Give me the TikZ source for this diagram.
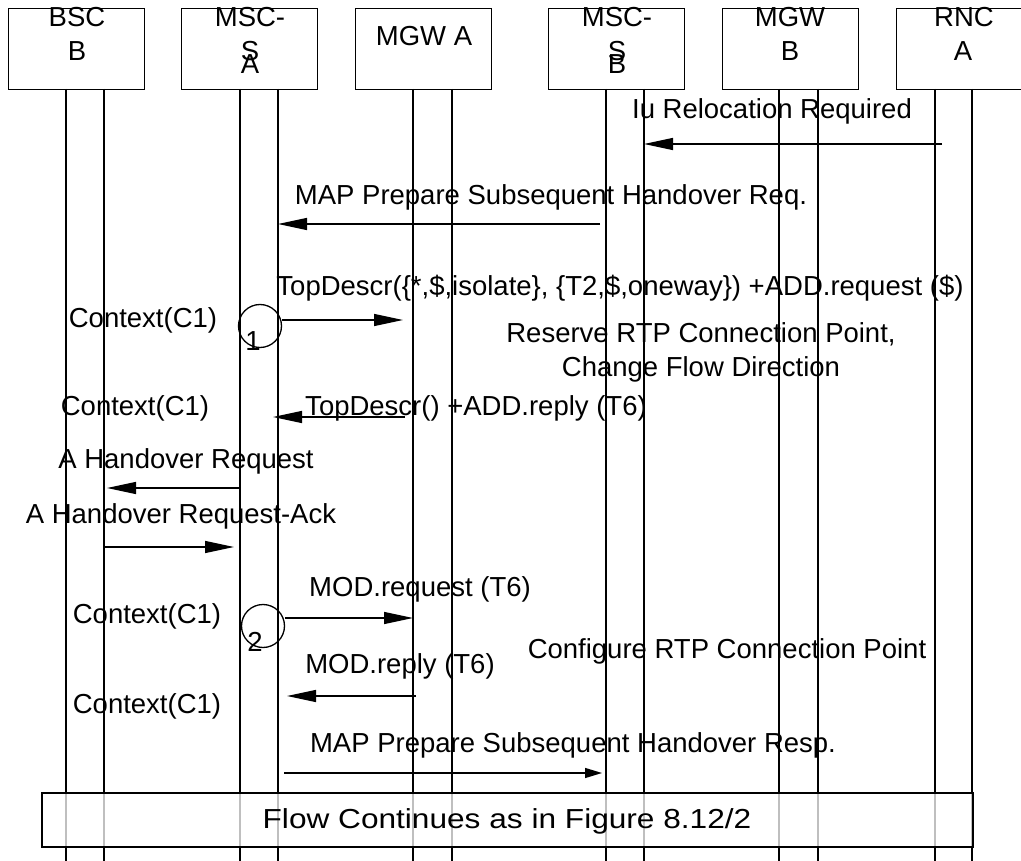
\documentclass[tikz,border=0pt]{standalone}
\usepackage{graphicx}
\usepackage{fontspec}
\setmainfont{Liberation Sans}
\usetikzlibrary{arrows.meta}

\begin{document}
\begin{tikzpicture}[x=1pt, y=-1pt, line width=1.3pt,
  every node/.style={font=\fontsize{27.5}{31}\selectfont, inner sep=0pt},
  entity/.style={draw, minimum width=136pt, minimum height=81pt, anchor=north west},
  lbl/.style={anchor=base},
  ctx/.style={draw, circle, minimum size=43pt},
  msg/.style={-{Triangle[length=29pt,width=12pt]}},
  msgsmall/.style={-{Triangle[length=17pt,width=10pt]}}]
  \clip (0,0) rectangle (1021,861);
  % Entitetar
  \node[entity] (bscB) at (8,8) {};
  \node[entity] (mscA) at (181,8) {};
  \node[entity] (mgwA) at (355,8) {};
  \node[entity] (mscB) at (548,8) {};
  \node[entity] (mgwB) at (722,8) {};
  \node[entity] (rncA) at (896,8) {};
  \node[lbl] (bscBt) at (77,27) {BSC};
  \node[lbl] (bscBb) at (77,61) {B};
  \node[lbl] (mscAt) at (250,27) {MSC-};
  \node[lbl] (mscAm) at (250,61) {S};
  \node[lbl] (mscAb) at (250,74) {A};
  \node[lbl] (mgwAt) at (424,46) {MGW A};
  \node[lbl] (mscBt) at (617,27) {MSC-};
  \node[lbl] (mscBm) at (617,61) {S};
  \node[lbl] (mscBb) at (617,74) {B};
  \node[lbl] (mgwBt) at (790,27) {MGW};
  \node[lbl] (mgwBb) at (790,61) {B};
  \node[lbl] (rncAt) at (964,27) {RNC};
  \node[lbl] (rncAb) at (963,61) {A};
  % Livslinjer
  \foreach \x in {66,104,240,278,413,452,606,644,779,818,935,972}
    \draw (\x,89) coordinate (top\x) -- (\x,861) coordinate (bot\x);
  % Iu Relocation Required
  \node[lbl] (iuL) at (772,119) {Iu Relocation Required};
  \coordinate (iuS) at (942,144);
  \coordinate (iuE) at (644,144);
  \draw[msg] (iuS) -- (iuE);
  % MAP Prepare Subsequent Handover Req.
  \node[lbl] (mapReqL) at (551,205) {MAP Prepare Subsequent Handover Req.};
  \coordinate (mapReqS) at (600,224);
  \coordinate (mapReqE) at (278,224);
  \draw[msg] (mapReqS) -- (mapReqE);
  % ADD.request
  \node[lbl] (addReqL) at (620,296) {TopDescr(\{*,\$,isolate\}, \{T2,\$,oneway\}) +ADD.request (\$)};
  \node[ctx] (ctx1) at (260,326) {};
  \node[lbl] (ctx1n) at (253,351) {1};
  \node[lbl] (ctxA) at (143,328) {Context(C1)};
  \coordinate (addReqE) at (403,320);
  \draw[msg] (ctx1.east |- addReqE) -- (addReqE);
  \node[lbl] (resL1) at (701,343) {Reserve RTP Connection Point,};
  \node[lbl] (resL2) at (701,376) {Change Flow Direction};
  % ADD.reply
  \node[lbl] (ctxB) at (135,415) {Context(C1)};
  \node[lbl] (addRepL) at (476,415) {TopDescr() +ADD.reply (T6)};
  \coordinate (addRepS) at (405,417);
  \coordinate (addRepE) at (273,417);
  \draw[msg] (addRepS) -- (addRepE);
  % A Handover Request
  \node[lbl] (hoReqL) at (186,468) {A Handover Request};
  \coordinate (hoReqS) at (240,488);
  \coordinate (hoReqE) at (107,488);
  \draw[msg] (hoReqS) -- (hoReqE);
  % A Handover Request-Ack
  \node[lbl] (hoAckL) at (181,523) {A Handover Request-Ack};
  \coordinate (hoAckS) at (104,547);
  \coordinate (hoAckE) at (234,547);
  \draw[msg] (hoAckS) -- (hoAckE);
  % MOD.request
  \node[lbl] (modReqL) at (420,596) {MOD.request (T6)};
  \node[ctx] (ctx2) at (263,626) {};
  \node[lbl] (ctx2n) at (255,651) {2};
  \node[lbl] (ctxC) at (147,623) {Context(C1)};
  \coordinate (modReqE) at (413,618);
  \draw[msg] (ctx2.east |- modReqE) -- (modReqE);
  \node[lbl] (cfgL) at (727,658) {Configure RTP Connection Point};
  % MOD.reply
  \node[lbl] (modRepL) at (400,673) {MOD.reply (T6)};
  \coordinate (modRepS) at (416,696);
  \coordinate (modRepE) at (287,696);
  \draw[msg] (modRepS) -- (modRepE);
  \node[lbl] (ctxD) at (147,713) {Context(C1)};
  % MAP Prepare Subsequent Handover Resp.
  \node[lbl] (mapRespL) at (573,752) {MAP Prepare Subsequent Handover Resp.};
  \coordinate (mapRespS) at (284,773);
  \coordinate (mapRespE) at (602,773);
  \draw[msgsmall] (mapRespS) -- (mapRespE);
  % Vidare flyt
  \node[draw, fill=white, fill opacity=0.75, text opacity=1,
    minimum width=931pt, minimum height=54pt] (flow) at (507.5,820) {};
  \node[lbl] (flowL) at (507,828)
    {\scalebox{1.15}[1]{Flow Continues as in Figure 8.12/2}};
\end{tikzpicture}
\end{document}
